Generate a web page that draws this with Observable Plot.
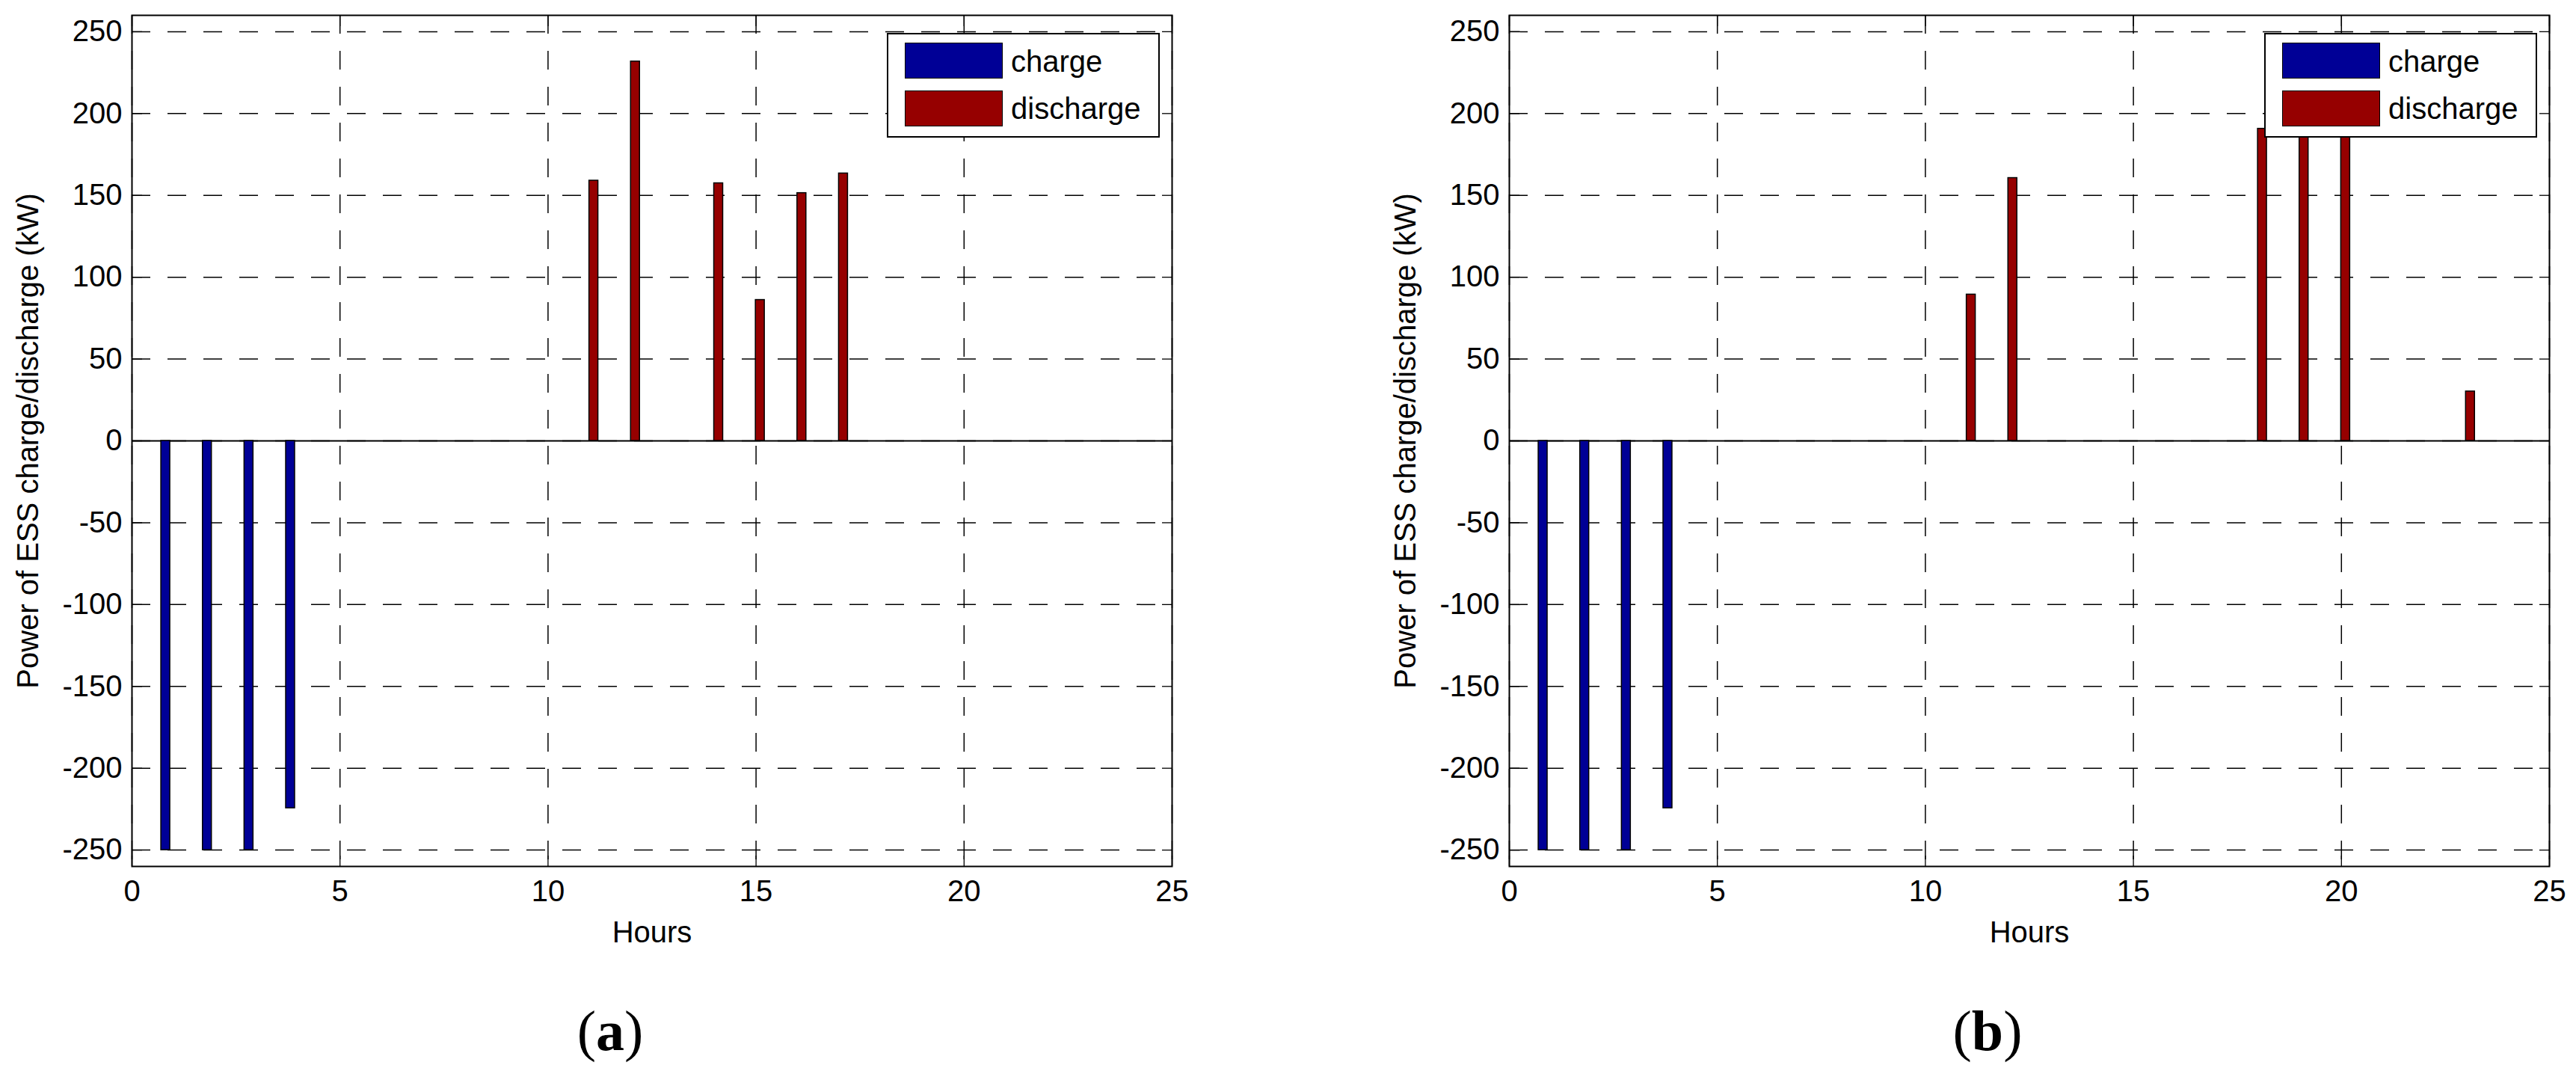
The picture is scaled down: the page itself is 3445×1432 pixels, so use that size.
<!DOCTYPE html>
<html><head><meta charset="utf-8">
<script src="https://cdn.jsdelivr.net/npm/d3@7"></script>
<script src="https://cdn.jsdelivr.net/npm/@observablehq/plot@0.6"></script>
<style>
html,body{margin:0;padding:0;background:#fff;}
#root{position:relative;width:3445px;height:1432px;overflow:hidden;font-family:"Liberation Sans",Arial,sans-serif;background:#fff;}
.panel{position:absolute;top:0;}
.legend{position:absolute;box-sizing:border-box;border:2px solid #000;background:#fff;}
.sw{position:absolute;box-sizing:border-box;border:1.5px solid #000;}
.lt{position:absolute;font-size:40px;line-height:1;white-space:nowrap;color:#000;}
.cap{position:absolute;font-family:"Liberation Serif","Times New Roman",serif;font-size:76px;line-height:1;transform:translate(-50%,-50%);white-space:nowrap;color:#000;}
</style></head><body><div id="root"></div>
<script>
// ---- data ----
const hours = [1,2,3,4,5,6,7,8,9,10,11,12,13,14,15,16,17,18,19,20,21,22,23,24];
const chargeA    = [-250,-250,-250,-224.4,0,0,0,0,0,0,0,0,0,0,0,0,0,0,0,0,0,0,0,0];
const dischargeA = [0,0,0,0,0,0,0,0,0,0,159,231.8,0,157.4,86.1,151.4,163.4,0,0,0,0,0,0,0];
const chargeB    = [-250,-250,-250,-224.4,0,0,0,0,0,0,0,0,0,0,0,0,0,0,0,0,0,0,0,0];
const dischargeB = [0,0,0,0,0,0,0,0,0,0,89.4,160.6,0,0,0,0,0,190.7,190,190,0,0,30.2,0];
const xTicks = [0,5,10,15,20,25];
const yTicks = [-250,-200,-150,-100,-50,0,50,100,150,200,250];
const seriesNames = ["charge","discharge"];
const seriesColors = ["#000096","#960000"];
const xLabel = "Hours";
const yLabel = "Power of ESS charge/discharge (kW)";
const captions = ["a","b"];

// ---- layout (styles) ----
const H = 1432, MT = 20, MB = H - 1158;
const barW = 0.215;
const offsets = {charge: -0.19, discharge: 0.10};
const root = document.getElementById("root");
const fmt = d => String(d);

function panel(charge, discharge, left, width, mL, mR, cap, capX) {
  const rows = hours.map((h, i) => ({h, c: charge[i], d: discharge[i]}));
  const chart = Plot.plot({
    width, height: H,
    marginLeft: mL, marginRight: mR, marginTop: MT, marginBottom: MB,
    x: {domain: [0, 25], ticks: xTicks},
    y: {domain: [-260, 260], ticks: yTicks},
    style: {fontFamily: "'Liberation Sans', Arial, sans-serif", fontSize: "40px", background: "white", color: "black", overflow: "visible"},
    marks: [
      Plot.gridX(xTicks, {stroke: "#000", strokeOpacity: 1, strokeWidth: 1.5, strokeDasharray: "25,23"}),
      Plot.gridY(yTicks, {stroke: "#000", strokeOpacity: 1, strokeWidth: 1.5, strokeDasharray: "25,23"}),
      Plot.ruleY([0], {stroke: "#000", strokeWidth: 2}),
      Plot.rect(rows, {x1: d => d.h + offsets.charge - barW/2, x2: d => d.h + offsets.charge + barW/2, y1: 0, y2: "c", fill: seriesColors[0], stroke: "#000", strokeWidth: 1.5}),
      Plot.rect(rows, {x1: d => d.h + offsets.discharge - barW/2, x2: d => d.h + offsets.discharge + barW/2, y1: 0, y2: "d", fill: seriesColors[1], stroke: "#000", strokeWidth: 1.5}),
      Plot.frame({stroke: "#000", strokeWidth: 2}),
      Plot.axisX(xTicks, {anchor: "bottom", tickSize: 0, tickPadding: 18, label: null, fontSize: 40, tickFormat: fmt}),
      Plot.axisY(yTicks, {anchor: "left", tickSize: 0, tickPadding: 13, label: null, fontSize: 40, tickFormat: fmt}),
      Plot.axisX(xTicks, {anchor: "bottom", tickSize: -14, tickFormat: () => "", label: null, strokeWidth: 1.3}),
      Plot.axisX(xTicks, {anchor: "top", tickSize: -14, tickFormat: () => "", label: null, strokeWidth: 1.3}),
      Plot.axisY(yTicks, {anchor: "left", tickSize: -14, tickFormat: () => "", label: null, strokeWidth: 1.3}),
      Plot.axisY(yTicks, {anchor: "right", tickSize: -14, tickFormat: () => "", label: null, strokeWidth: 1.3}),
      Plot.text([xLabel], {frameAnchor: "bottom", dy: 89, fontSize: 40, lineAnchor: "middle", fill: "#000"}),
      Plot.text([yLabel], {frameAnchor: "left", dx: -138, rotate: -90, fontSize: 40, lineAnchor: "middle", textAnchor: "middle", fill: "#000"})
    ]
  });
  chart.classList.add("panel");
  chart.style.left = left + "px";
  root.appendChild(chart);

  // legend (inside top-right of the frame)
  const frameRight = left + width - mR;
  const lg = document.createElement("div");
  lg.className = "legend";
  const lgW = 365, lgH = 140;
  lg.style.left = (frameRight - 16 - lgW) + "px";
  lg.style.top = "44px";
  lg.style.width = lgW + "px";
  lg.style.height = lgH + "px";
  const swTops = [11, 75];
  const txtTops = [16, 79];
  seriesNames.forEach((name, i) => {
    const sw = document.createElement("div");
    sw.className = "sw";
    sw.style.left = "22px"; sw.style.top = swTops[i] + "px";
    sw.style.width = "131px"; sw.style.height = "48px";
    sw.style.background = seriesColors[i];
    lg.appendChild(sw);
    const t = document.createElement("div");
    t.className = "lt";
    t.style.left = "164px"; t.style.top = txtTops[i] + "px";
    t.textContent = name;
    lg.appendChild(t);
  });
  root.appendChild(lg);

  const c = document.createElement("div");
  c.className = "cap";
  c.style.left = capX + "px";
  c.style.top = "1378px";
  c.innerHTML = "(<b>" + cap + "</b>)";
  root.appendChild(c);
}

panel(chargeA, dischargeA, 0, 1722, 176, 1722 - 1567, captions[0], 816);
panel(chargeB, dischargeB, 1722, 1723, 2018 - 1722, 1722 + 1723 - 3409, captions[1], 2658);
</script></body></html>
